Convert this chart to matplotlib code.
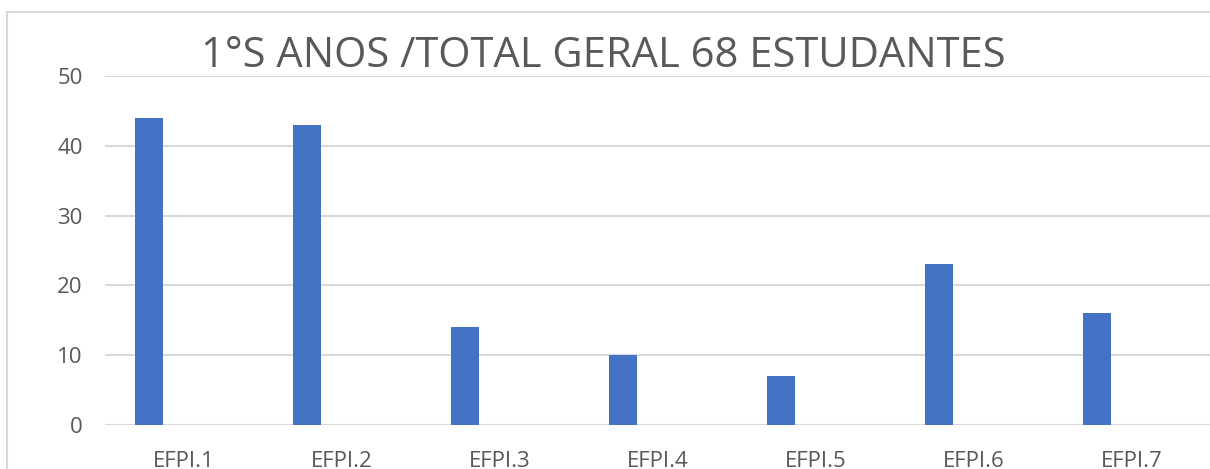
import numpy as np
import matplotlib.pyplot as plt
from matplotlib.patches import Rectangle

categories = ["EFPI.1", "EFPI.2", "EFPI.3", "EFPI.4", "EFPI.5", "EFPI.6", "EFPI.7"]
values = [44, 43, 14, 10, 7, 23, 16]
yticks = [0, 10, 20, 30, 40, 50]
title = "1°S ANOS /TOTAL GERAL 68 ESTUDANTES"

W, H = 1210, 469
fig = plt.figure(figsize=(W / 100, H / 100), dpi=100)
plt.rcParams['font.family'] = ['Open Sans', 'DejaVu Sans']

# chart border (Excel style)
fig.patches.append(Rectangle((7 / W, -0.01), 1.1, (H - 12) / H + 0.01,
                             transform=fig.transFigure, fill=False,
                             edgecolor="#d9d9d9", linewidth=1.5))

left, right = 105, 1211
bottom, top = H - 424.5, H - 76.5
ax = fig.add_axes([left / W, bottom / H, (right - left) / W, (top - bottom) / H])

x = np.arange(len(categories))
ax.bar(x - 0.2215, values, width=0.177, color="#4472c4", zorder=3)

ax.set_xlim(-0.5, 6.5)
ax.set_ylim(0, 50)
ax.set_yticks(yticks)
ax.set_xticks(x)
ax.set_xticklabels(categories)
ax.grid(axis="y", color="#d9d9d9", linewidth=1.5, zorder=0)
for s in ax.spines.values():
    s.set_visible(False)
ax.tick_params(length=0, labelsize=16, labelcolor="#595959")
ax.tick_params(axis="y", pad=16)
ax.tick_params(axis="x", pad=19)

fig.text(603 / W, 1 - 56 / H, title, ha="center", va="center",
         fontsize=30, color="#595959")

fig.savefig("out.png", dpi=100)
